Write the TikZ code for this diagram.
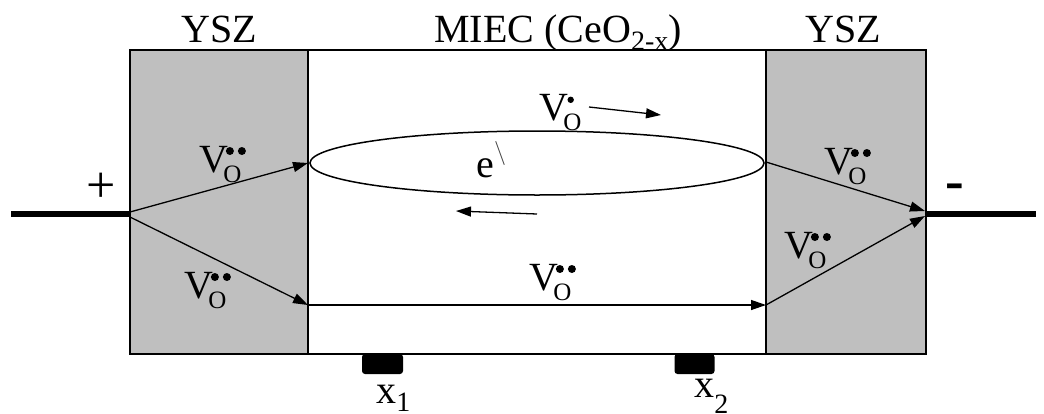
\documentclass[tikz,border=0pt]{standalone}
\usepackage{fontspec}
\setmainfont{Liberation Serif}
\usetikzlibrary{arrows.meta}
\newcommand{\mydotb}{\raisebox{8.5pt}{\tikz\fill (0pt,0pt) circle (2pt);}}
\newcommand{\mydots}{\raisebox{8.5pt}{\tikz\fill (0pt,0pt) circle (1.6pt);}}
\newcommand{\vac}[1]{V\kern-2.4pt\makebox[0pt][l]{\raisebox{-5pt}{\fontsize{12.5}{12.5}\selectfont O}}#1}
\begin{document}
\begin{tikzpicture}[x=0.5pt,y=-0.5pt,
  lbl/.style={font=\fontsize{20}{24}\selectfont, inner sep=0pt},
  ysz/.style={draw=black, fill=black!25, line width=0.75pt},
  miec/.style={draw=black, fill=white, line width=0.75pt},
  flow/.style={line width=0.65pt, -{Triangle[length=7.5pt,width=5pt]}},
  wire/.style={line width=3pt},
  electrode/.style={fill=black, rounded corners=1.5pt}]
\useasboundingbox (0,0) rectangle (1044,413);
% boxes
\node[ysz, minimum width=89pt, minimum height=152pt, inner sep=0pt] (lysz) at (219,202) {};
\node[miec, minimum width=229pt, minimum height=152pt, inner sep=0pt] (miecbox) at (537,202) {};
\node[ysz, minimum width=80pt, minimum height=152pt, inner sep=0pt] (rysz) at (846,202) {};
% electrodes
\node[electrode, minimum width=20.5pt, minimum height=10pt, inner sep=0pt] (e1) at (382.5,364) {};
\node[electrode, minimum width=20pt, minimum height=10pt, inner sep=0pt] (e2) at (694.5,364) {};
% wires
\coordinate (wl) at (11,214);
\coordinate (pl) at (130,214);
\coordinate (pr) at (926,214);
\coordinate (wr) at (1036,214);
\draw[wire] (wl) -- (pl);
\draw[wire] (pr) -- (wr);
% ellipse
\draw[line width=0.75pt] (537,163) ellipse [x radius=113.5pt, y radius=16pt];
\coordinate (elL) at (308,163);
\coordinate (elR) at (766,162);
% arrows
\coordinate (pl1) at (130,212);
\coordinate (pl2) at (130,217);
\coordinate (bl) at (308,305);
\coordinate (br) at (766,305);
\coordinate (pr1) at (925,211);
\coordinate (pr2) at (925,216);
\draw[flow] (pl1) -- (elL);
\draw[flow] (pl2) -- (bl);
\draw[flow] (bl) -- (br);
\draw[flow] (elR) -- (pr1);
\draw[flow] (br) -- (pr2);
\coordinate (t1) at (589,107);
\coordinate (t2) at (661,115);
\draw[flow] (t1) -- (t2);
\coordinate (u1) at (537,214);
\coordinate (u2) at (456,211);
\draw[flow] (u1) -- (u2);
% labels
\node[lbl, anchor=base] (ylab) at (219,42) {YSZ};
\node[lbl, anchor=base] (mlab) at (558,42) {MIEC (CeO\raisebox{-0.45ex}{\fontsize{14}{14}\selectfont 2-x})};
\node[lbl, anchor=base] (y2lab) at (843,42) {YSZ};
\node[lbl, anchor=base west] (v1) at (199,172) {\vac{\kern1.2pt\mydotb\kern2pt\mydotb}};
\node[lbl, anchor=base west] (v2) at (184,298) {\vac{\kern1.2pt\mydotb\kern2pt\mydotb}};
\node[lbl, anchor=base west] (v3) at (529,290) {\vac{\kern1.2pt\mydotb\kern2pt\mydotb}};
\node[lbl, anchor=base west] (v4) at (824,174) {\vac{\kern1.2pt\mydotb\kern2pt\mydotb}};
\node[lbl, anchor=base west] (v5) at (784,258) {\vac{\kern1.2pt\mydotb\kern2pt\mydotb}};
\node[lbl, anchor=base west] (v6) at (539,120) {\vac{\kern2pt\mydots}};
\node[lbl, anchor=base west] (el) at (476,177) {e\raisebox{9pt}{\color{black!75}\fontsize{12}{12}\selectfont$\backslash$}};
\node[lbl, font=\fontsize{26}{30}\selectfont] (plus) at (101,188) {+};
\node[lbl, font=\fontsize{28}{30}\selectfont\bfseries] (minus) at (955,192) {-};
\node[lbl, anchor=base west] (x1) at (376,403) {x\raisebox{-4pt}{\fontsize{14}{14}\selectfont 1}};
\node[lbl, anchor=base west] (x2) at (694,397) {x\raisebox{-8pt}{\fontsize{14}{14}\selectfont 2}};
\end{tikzpicture}
\end{document}
